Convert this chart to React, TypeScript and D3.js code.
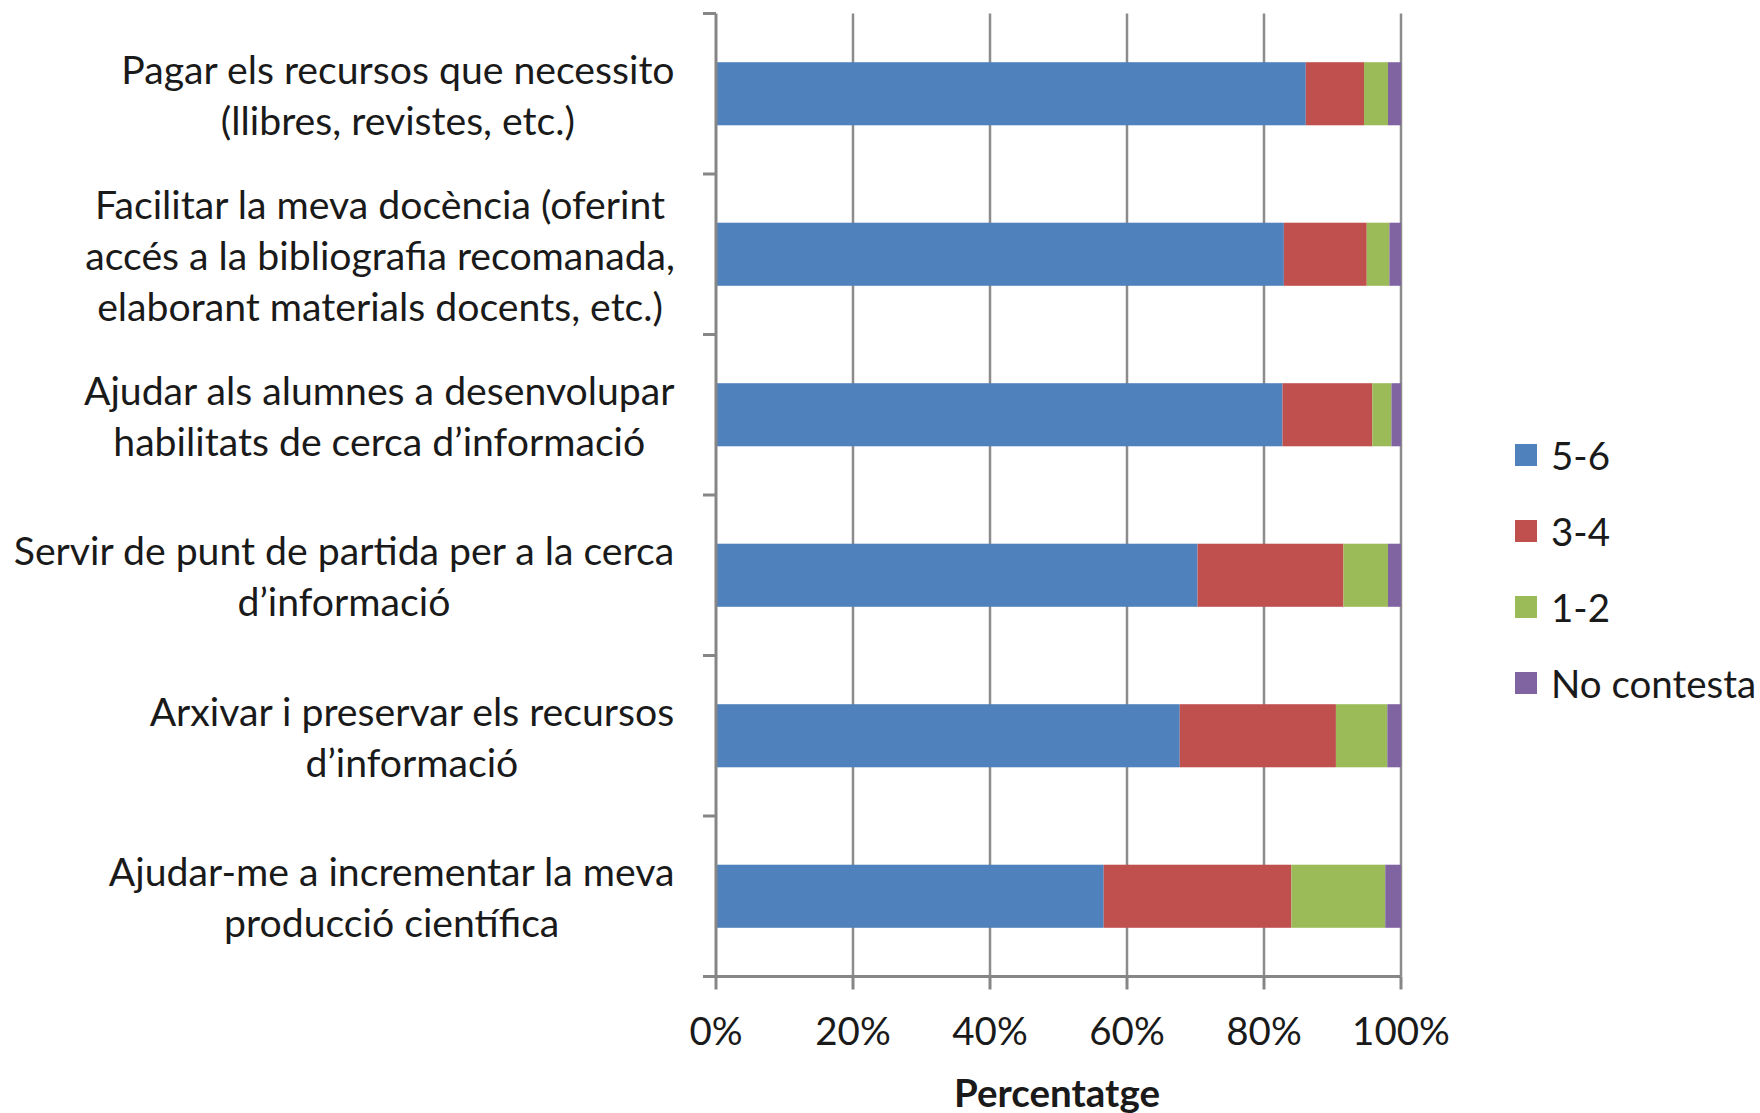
import React, { useMemo } from 'react';
import * as d3 from 'd3';

const categories: string[][] = [
  ["Pagar els recursos que necessito", "(llibres, revistes, etc.)"],
  ["Facilitar la meva docència (oferint", "accés a la bibliografia recomanada,", "elaborant materials docents, etc.)"],
  ["Ajudar als alumnes a desenvolupar", "habilitats de cerca d’informació"],
  ["Servir de punt de partida per a la cerca", "d’informació"],
  ["Arxivar i preservar els recursos", "d’informació"],
  ["Ajudar-me a incrementar la meva", "producció científica"],
];
const seriesNames = ["5-6", "3-4", "1-2", "No contesta"];
const s56 = [86.1, 82.9, 82.7, 70.3, 67.7, 56.6];
const s34 = [8.5, 12.1, 13.1, 21.3, 22.8, 27.4];
const s12 = [3.5, 3.3, 2.8, 6.5, 7.5, 13.7];
const sNC = [1.9, 1.7, 1.4, 1.9, 2.0, 2.3];
const xTicks = [0, 20, 40, 60, 80, 100];
const colors = ["#4F81BD", "#C0504D", "#9BBB59", "#8064A2"];
const axisTitle = "Percentatge";

const FONT = "Lato, 'Open Sans', sans-serif";
const FS = 38.5;
const FS_LABEL = 39.2;

function measure(text: string, size: number, weight = "normal"): number {
  const c = document.createElement('canvas');
  const ctx = c.getContext('2d')!;
  ctx.font = `${weight} ${size}px Lato`;
  return ctx.measureText(text).width;
}

export default function App() {
  const W = 1760, H = 1113;
  const left = 716, right = 1401, top = 13.5, bottom = 976.5;
  const labelRight = 675;
  const lineGap = 51;

  const rows = categories.map((_, i) => ({
    key: String(i),
    "5-6": s56[i], "3-4": s34[i], "1-2": s12[i], "No contesta": sNC[i],
  }));
  const stacked = d3.stack<any>().keys(seriesNames)(rows);

  const x = d3.scaleLinear().domain([0, 100]).range([left, right]);
  const y = d3.scaleBand<string>()
    .domain(rows.map(r => r.key))
    .range([top, bottom])
    .paddingInner(0.607)
    .paddingOuter(0.3035);
  const step = (bottom - top) / categories.length;
  const boundaries = d3.range(categories.length + 1).map(k => top + k * step);

  const labelWidths = useMemo(() => categories.map(lines => Math.max(...lines.map(l => measure(l, FS_LABEL)))), []);

  const legendX = 1515, legendY0 = 455, legendGap = 76, sq = 22;

  return (
    <svg width={W} height={H} style={{ position: 'absolute', left: 0, top: 0, background: '#fff' }}
      fontFamily={FONT}>
      <rect x={0} y={0} width={W} height={H} fill="#fff" />
      {/* gridlines */}
      {xTicks.slice(1).map(t => (
        <line key={t} x1={x(t)} x2={x(t)} y1={top} y2={bottom} stroke="#8c8c8c" strokeWidth={2.5} />
      ))}
      {/* bars */}
      {stacked.map((s, si) => (
        <g key={s.key} fill={colors[si]}>
          {s.map((d: any, i: number) => (
            <rect key={i} x={x(d[0])} width={x(d[1]) - x(d[0])} y={y(rows[i].key)!} height={y.bandwidth()} />
          ))}
        </g>
      ))}
      {/* y axis */}
      <line x1={left} x2={left} y1={top} y2={bottom} stroke="#868686" strokeWidth={3} />
      {boundaries.map((b, i) => (
        <line key={i} x1={left - 13} x2={left} y1={b} y2={b} stroke="#868686" strokeWidth={3} />
      ))}
      {/* x axis */}
      <line x1={left} x2={right} y1={bottom} y2={bottom} stroke="#868686" strokeWidth={3} />
      {xTicks.map(t => (
        <g key={t}>
          <line x1={x(t)} x2={x(t)} y1={bottom} y2={bottom + 13} stroke="#868686" strokeWidth={3} />
          <text x={x(t)} y={1030} fontSize={FS} textAnchor="middle" dominantBaseline="central" fill="#1a1a1a">{t}%</text>
        </g>
      ))}
      <text x={1057} y={1092} fontSize={FS} fontWeight="bold" textAnchor="middle" dominantBaseline="central" fill="#1a1a1a">{axisTitle}</text>
      {/* category labels */}
      {categories.map((lines, i) => {
        const cy = y(rows[i].key)! + y.bandwidth() / 2;
        const cx = labelRight - labelWidths[i] / 2;
        return (
          <text key={i} fontSize={FS_LABEL} textAnchor="middle" fill="#1a1a1a">
            {lines.map((l, j) => (
              <tspan key={j} x={cx} y={cy + (j - (lines.length - 1) / 2) * lineGap} dominantBaseline="central">{l}</tspan>
            ))}
          </text>
        );
      })}
      {/* legend */}
      {seriesNames.map((n, i) => (
        <g key={n}>
          <rect x={legendX} y={legendY0 + i * legendGap - sq / 2} width={sq} height={sq} fill={colors[i]} />
          <text x={legendX + 36} y={legendY0 + i * legendGap} fontSize={FS} dominantBaseline="central" fill="#1a1a1a">{n}</text>
        </g>
      ))}
    </svg>
  );
}
